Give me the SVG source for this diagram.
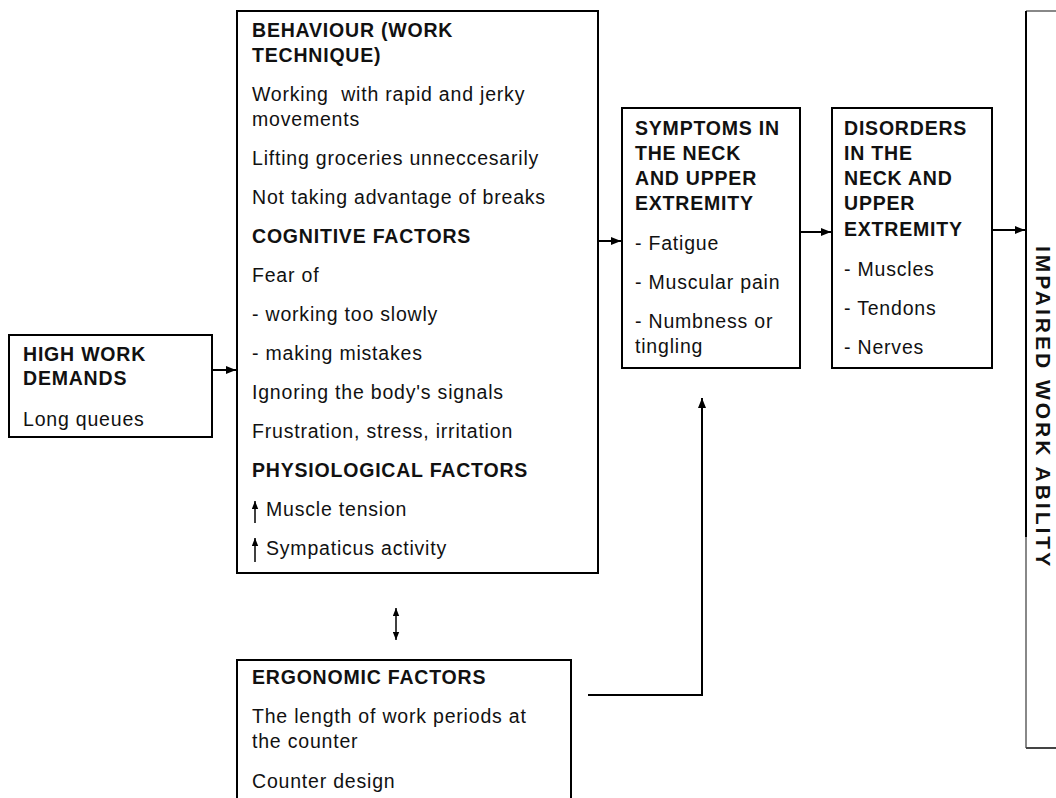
<svg xmlns="http://www.w3.org/2000/svg" width="1056" height="798" viewBox="0 0 1056 798">
<defs>
<marker id="ah" viewBox="0 0 10 8" refX="10" refY="4" markerWidth="10" markerHeight="8" markerUnits="userSpaceOnUse" orient="auto-start-reverse"><path d="M0,0 L10,4 L0,8 z" fill="#000"/></marker>
<marker id="sm" viewBox="0 0 10 8" refX="10" refY="4" markerWidth="8" markerHeight="7" markerUnits="userSpaceOnUse" orient="auto-start-reverse"><path d="M0,0 L10,4 L0,8 z" fill="#000"/></marker>
<style>
.box{fill:#fff;stroke:#000;stroke-width:2}
.t{font-family:"Liberation Sans",Arial,sans-serif;font-size:19.5px;letter-spacing:0.8px;fill:#111}
.b{font-weight:bold}
.c{fill:none;stroke:#000;stroke-width:2}
.s{fill:none;stroke:#000;stroke-width:1.5}
</style>
</defs>
<rect width="1056" height="798" fill="#fff"/>

<g id="high-work-demands">
<rect class="box" x="9" y="335" width="203" height="102"/>
<text class="t b" x="23" y="361">HIGH WORK</text>
<text class="t b" x="23" y="385">DEMANDS</text>
<text class="t" x="23" y="426">Long queues</text>
</g>

<g id="behaviour">
<rect class="box" x="237" y="11" width="361" height="562"/>
<text class="t b" x="252" y="37">BEHAVIOUR (WORK</text>
<text class="t b" x="252" y="62">TECHNIQUE)</text>
<text class="t" x="252" y="101">Working&#160; with rapid and jerky</text>
<text class="t" x="252" y="126">movements</text>
<text class="t" x="252" y="165">Lifting groceries unneccesarily</text>
<text class="t" x="252" y="204">Not taking advantage of breaks</text>
<text class="t b" x="252" y="243">COGNITIVE FACTORS</text>
<text class="t" x="252" y="282">Fear of</text>
<text class="t" x="252" y="321">- working too slowly</text>
<text class="t" x="252" y="360">- making mistakes</text>
<text class="t" x="252" y="399">Ignoring the body's signals</text>
<text class="t" x="252" y="438">Frustration, stress, irritation</text>
<text class="t b" x="252" y="477">PHYSIOLOGICAL FACTORS</text>
<path class="s" d="M255,523 V501" marker-end="url(#sm)"/>
<text class="t" x="266" y="516">Muscle tension</text>
<path class="s" d="M255,562 V538" marker-end="url(#sm)"/>
<text class="t" x="266" y="555">Sympaticus activity</text>
</g>

<g id="symptoms">
<rect class="box" x="622" y="108" width="178" height="260"/>
<text class="t b" x="635" y="135">SYMPTOMS IN</text>
<text class="t b" x="635" y="160">THE NECK</text>
<text class="t b" x="635" y="185">AND UPPER</text>
<text class="t b" x="635" y="210">EXTREMITY</text>
<text class="t" x="635" y="250">- Fatigue</text>
<text class="t" x="635" y="289">- Muscular pain</text>
<text class="t" x="635" y="328">- Numbness or</text>
<text class="t" x="635" y="353">tingling</text>
</g>

<g id="disorders">
<rect class="box" x="832" y="108" width="160" height="260"/>
<text class="t b" x="844" y="135">DISORDERS</text>
<text class="t b" x="844" y="160">IN THE</text>
<text class="t b" x="844" y="185">NECK AND</text>
<text class="t b" x="844" y="210">UPPER</text>
<text class="t b" x="844" y="236">EXTREMITY</text>
<text class="t" x="844" y="276">- Muscles</text>
<text class="t" x="844" y="315">- Tendons</text>
<text class="t" x="844" y="354">- Nerves</text>
</g>

<g id="impaired-work-ability">
<path d="M1026,11 H1060" fill="none" stroke="#888" stroke-width="2"/>
<path d="M1026,11 V537" fill="none" stroke="#000" stroke-width="2"/>
<path d="M1026,537 V748" fill="none" stroke="#888" stroke-width="2"/>
<path d="M1026,748 H1060" fill="none" stroke="#444" stroke-width="2"/>
<text class="t b" style="font-size:21px" transform="translate(1036,246) rotate(90)" textLength="321" lengthAdjust="spacing">IMPAIRED WORK ABILITY</text>
</g>

<g id="ergonomic">
<path class="box" d="M237,800 V660 H571 V800"/>
<text class="t b" x="252" y="684">ERGONOMIC FACTORS</text>
<text class="t" x="252" y="723">The length of work periods at</text>
<text class="t" x="252" y="748">the counter</text>
<text class="t" x="252" y="788">Counter design</text>
</g>

<g id="connectors">
<path class="c" d="M212,370 H236" marker-end="url(#ah)"/>
<path class="c" d="M598,241 H621" marker-end="url(#ah)"/>
<path class="c" d="M800,232 H831" marker-end="url(#ah)"/>
<path class="c" d="M992,230 H1025" marker-end="url(#ah)"/>
<path class="s" d="M396,608 V640" marker-start="url(#sm)" marker-end="url(#sm)"/>
<path class="c" d="M588,695 H702 V398" marker-end="url(#ah)"/>
</g>
</svg>
